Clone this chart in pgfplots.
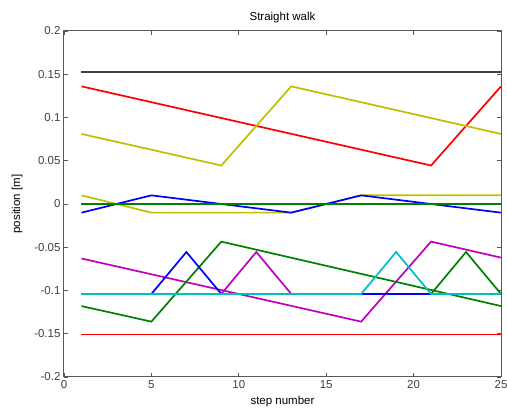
\documentclass[border=0pt]{standalone}
\usepackage{fontspec}
\setmainfont{Liberation Sans}
\usepackage{pgfplots}
\pgfplotsset{compat=1.18}
\definecolor{mred}{rgb}{1,0,0}
\definecolor{myel}{rgb}{0.75,0.75,0}
\definecolor{mblue}{rgb}{0,0,1}
\definecolor{mgreen}{rgb}{0,0.5,0}
\definecolor{mmag}{rgb}{0.75,0,0.75}
\definecolor{mcyan}{rgb}{0,0.75,0.75}
\definecolor{mblack}{rgb}{0.25,0.25,0.25}
\begin{document}
\begin{tikzpicture}
\begin{axis}[
  scale only axis,
  width=437pt, height=346pt,
  xmin=0, xmax=25, ymin=-0.2, ymax=0.2,
  xtick={0,5,10,15,20,25},
  ytick={-0.2,-0.15,-0.1,-0.05,0,0.05,0.1,0.15,0.2},
  yticklabels={-0.2,-0.15,-0.1,-0.05,0,0.05,0.1,0.15,0.2},
  xticklabels={0,5,10,15,20,25},
  tick align=inside,
  major tick length=4pt,
  axis line style={draw=black!65, line width=1pt},
  every tick/.style={black!65, line width=0.8pt},
  tick label style={font=\fontsize{11.5}{13}\selectfont, text=black!75},
  xlabel={step number}, ylabel={position [m]},
  label style={font=\fontsize{11.5}{13}\selectfont},
  title={Straight walk},
  title style={font=\fontsize{11.5}{13}\selectfont, yshift=-1pt},
  xlabel style={yshift=-1pt},
  ylabel style={yshift=5pt},
  every axis plot/.append style={line width=1.7pt, mark=none},
]
\addplot[mblack] coordinates {(1,0.153) (25,0.153)};
\addplot[mred] coordinates {(1,0.136) (21,0.0445) (25,0.136)};
\addplot[myel] coordinates {(1,0.081) (9,0.0445) (13,0.136) (25,0.081)};
\addplot[myel] coordinates {(1,0.01) (5,-0.01) (13,-0.01) (17,0.01) (25,0.01)};
\addplot[mblue] coordinates {(1,-0.01) (5,0.01) (13,-0.01) (17,0.01) (25,-0.01)};
\addplot[mgreen] coordinates {(1,0) (25,0)};
\addplot[mmag] coordinates {(1,-0.063) (17,-0.136) (21,-0.0435) (25,-0.062)};
\addplot[mgreen] coordinates {(1,-0.118) (5,-0.136) (9,-0.0435) (25,-0.118)};
\addplot[mblue] coordinates {(1,-0.104) (5,-0.104) (7,-0.0555) (9,-0.104) (25,-0.104)};
\addplot[mmag] coordinates {(9,-0.104) (11,-0.0555) (13,-0.104)};
\addplot[mgreen] coordinates {(21,-0.104) (23,-0.0555) (25,-0.104)};
\addplot[mcyan] coordinates {(1,-0.104) (17,-0.104) (19,-0.0555) (21,-0.104) (25,-0.104)};
\addplot[mred] coordinates {(1,-0.151) (25,-0.151)};
\end{axis}
\pgfresetboundingbox
\path ([shift={(-64pt,-34pt)}]current axis.south west) rectangle ([shift={(6pt,31pt)}]current axis.north east);
\end{tikzpicture}
\end{document}
